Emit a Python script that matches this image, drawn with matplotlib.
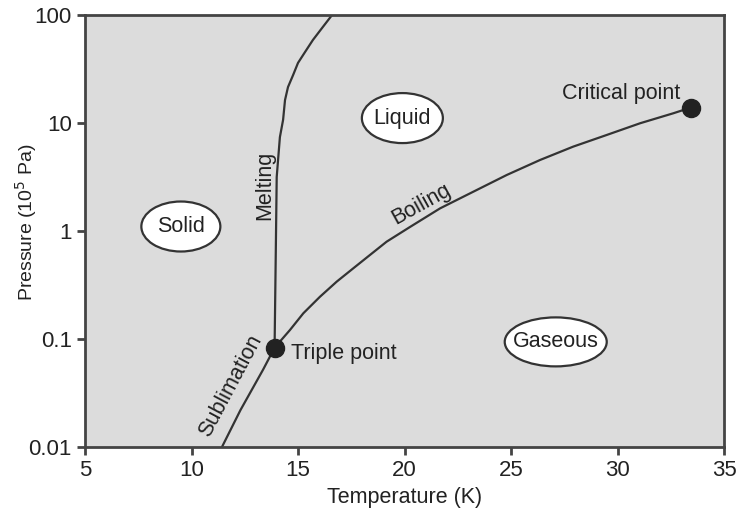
import matplotlib.pyplot as plt
from matplotlib.patches import Ellipse
from matplotlib.transforms import ScaledTranslation

plt.rcParams['font.family'] = ['Liberation Sans', 'DejaVu Sans']

# phase boundaries (T in K, P in 1e5 Pa)
melt_T = [13.9, 13.95, 14.0, 14.15, 14.3, 14.39, 14.53, 14.77, 15.0, 15.33, 15.7, 16.13, 16.6]
melt_P = [0.083, 0.5, 3.16, 7.4, 10.7, 16.3, 21.5, 27.8, 36.0, 45.4, 58.7, 75.8, 100.0]

boil_T = [13.9, 14.62, 15.25, 16.03, 16.82, 17.6, 18.38, 19.16, 20.26, 21.67, 23.23,
          24.8, 26.36, 27.92, 29.49, 31.06, 32.62, 33.45]
boil_P = [0.083, 0.121, 0.173, 0.246, 0.34, 0.452, 0.6, 0.796, 1.09, 1.62, 2.31,
          3.3, 4.54, 6.04, 7.74, 9.94, 12.3, 13.9]

subl_T = [11.43, 12.3, 13.36, 13.9]
subl_P = [0.01, 0.022, 0.052, 0.083]

points_T = [13.9, 33.45]
points_P = [0.083, 13.9]

regions = ['Solid', 'Liquid', 'Gaseous']
region_T = [9.5, 19.9, 27.1]
region_P = [1.1, 11.1, 0.094]
region_w = [0.79, 0.81, 1.02]   # ellipse size in inches
region_h = [0.50, 0.50, 0.49]

xticks = [5, 10, 15, 20, 25, 30, 35]
yticks = [0.01, 0.1, 1, 10, 100]
ytick_labels = ['0.01', '0.1', '1', '10', '100']

fig = plt.figure(figsize=(7.36, 5.2), dpi=100)
ax = fig.add_axes([0.1155, 0.1404, 0.8682, 0.8308])
ax.set_facecolor('#dcdcdc')

line_col = '#333333'
ax.plot(melt_T, melt_P, color=line_col, lw=1.6)
ax.plot(boil_T, boil_P, color=line_col, lw=1.6)
ax.plot(subl_T, subl_P, color=line_col, lw=1.6)
ax.plot(points_T, points_P, 'o', color='#222222', markersize=13, zorder=5)

ax.set_yscale('log')
ax.set_xlim(5, 35)
ax.set_ylim(0.01, 100)
ax.set_xticks(xticks)
ax.set_yticks(yticks)
ax.set_yticklabels(ytick_labels)
ax.minorticks_off()

fs = 15.5
for name, t, p, w, h in zip(regions, region_T, region_P, region_w, region_h):
    tr = fig.dpi_scale_trans + ScaledTranslation(t, p, ax.transData)
    ax.add_patch(Ellipse((0, 0), w, h, transform=tr, fc='white', ec='#333333', lw=1.6, zorder=3))
    ax.text(t, p, name, ha='center', va='center', fontsize=fs, color='#222222', zorder=4)

ax.text(13.45, 2.67, 'Melting', rotation=90, ha='center', va='center', fontsize=fs, color='#222222')
ax.text(20.8, 1.78, 'Boiling', rotation=29, ha='center', va='center', fontsize=fs, color='#222222')
ax.text(11.85, 0.037, 'Sublimation', rotation=62, ha='center', va='center', fontsize=fs, color='#222222')
ax.text(14.67, 0.074, 'Triple point', ha='left', va='center', fontsize=fs, color='#222222')
ax.text(32.95, 18.6, 'Critical point', ha='right', va='center', fontsize=fs, color='#222222')

for s in ax.spines.values():
    s.set_color('#444444')
    s.set_linewidth(2)
ax.tick_params(direction='out', length=6, width=2, color='#444444',
               labelsize=16, labelcolor='#222222')

ax.set_xlabel('Temperature (K)', fontsize=fs, color='#222222')
ax.set_ylabel('Pressure (10$^5$ Pa)', fontsize=14, color='#222222')
ax.yaxis.set_label_coords(-0.072, 0.52)

fig.savefig('out.png', dpi=100)
